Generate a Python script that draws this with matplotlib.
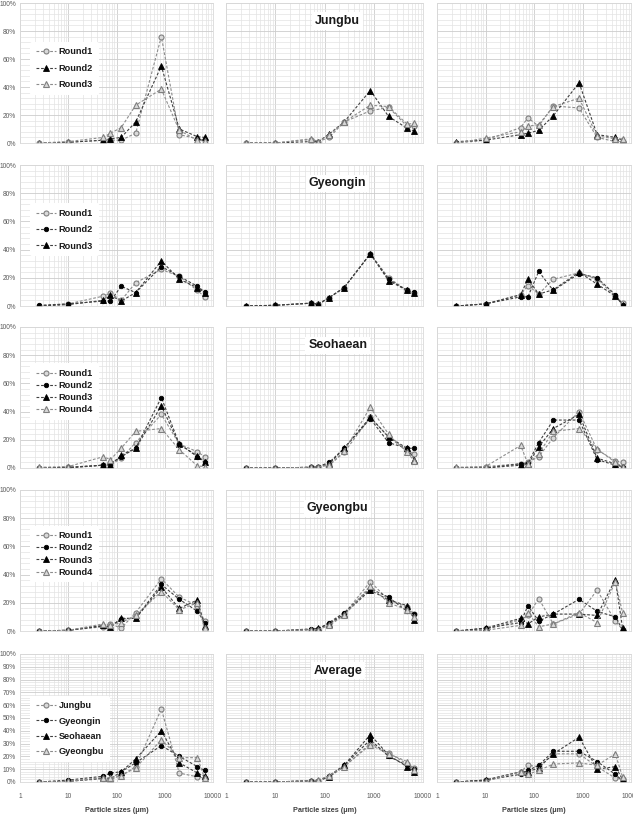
import matplotlib
matplotlib.use("Agg")
import matplotlib.pyplot as plt
import matplotlib.ticker as mticker
import numpy as np

# particle size classes (um)
sizes = [2.5, 10, 53, 75, 125, 250, 850, 2000, 4750, 6700]

# row 1 : Jungbu, Round1..3, three columns
jungbu_a = [[0, 0.5, 2, 2, 2, 7, 76, 6, 3, 2],
            [0, 0.5, 2, 3, 4, 15, 55, 10, 4.5, 4],
            [0, 1, 4, 7, 11, 27, 38.5, 9, 2, 1.5]]
jungbu_b = [[0, 0, 2.5, 1, 4, 15, 23, 25.5, 12, 12],
            [0, 0, 1, 1, 6.5, 15, 37.5, 19, 10.5, 8.5],
            [0, 0, 3, 1, 6, 15, 27, 26, 13.5, 14]]
jungbu_c = [[0, 2, 11, 18, 12, 26.5, 25, 4, 1, 1],
            [1, 2, 6, 7, 9, 19.5, 43, 6, 4, 2],
            [0, 3.5, 8, 12, 13, 26, 32, 5, 3, 3]]

# row 2 : Gyeongin, Round1..3
gyeongin_a = [[0, 1.5, 7, 9, 4, 16.5, 26, 21, 11, 6.5],
              [0.5, 1.5, 3.5, 3.5, 14, 9.5, 28, 21, 14, 10],
              [0, 1, 4, 7.5, 3.5, 9.5, 32, 19, 13, 9.5]]
gyeongin_b = [[0, 0.5, 2, 1.5, 6, 13, 37, 20, 11, 9],
              [0, 0.5, 2, 1, 6, 13, 37, 19, 11, 10],
              [0, 0.5, 2, 1.5, 6, 13, 37, 18, 11, 9]]
gyeongin_c = [[0, 1.5, 8, 14.5, 8.5, 19, 23.5, 19, 7, 2],
              [0, 1.5, 6.5, 6.5, 24.5, 11, 23, 20, 8, 1],
              [0, 1.5, 8, 19, 8.5, 11.5, 24, 15.5, 7, 1]]

# row 3 : Seohaean, Round1..4
seohaean_a = [[0, 0.5, 2, 2, 7, 18, 38, 17, 11.5, 8],
              [0, 0, 2, 3, 8, 14, 50, 17, 8, 4],
              [0, 0.5, 2, 2, 9, 14, 44, 17, 8.5, 4.5],
              [0.5, 1, 8, 6, 14, 26, 28, 13, 1.5, 1]]
seohaean_b = [[0, 0, 0.5, 1, 2, 11, 36, 22, 12, 10],
              [0, 0, 0.5, 1, 4, 14, 35, 18, 14, 14],
              [0, 0, 0.5, 1, 3, 14, 36, 22, 14, 6],
              [0, 0, 0.5, 1, 2, 12, 43, 24, 11, 5]]
seohaean_c = [[0, 1, 3, 4, 8, 21.5, 40, 13, 5, 4],
              [0, 0, 3, 3.5, 18, 34, 34, 6, 2, 1],
              [0, 0, 2, 2.5, 15, 28, 38, 7, 3, 1],
              [0.5, 1, 16, 3, 10, 26, 28, 13.5, 4, 1]]

# row 4 : Gyeongbu, Round1..4
gyeongbu_a = [[0, 0.5, 3, 5, 2, 13, 37, 24, 18, 7],
              [0, 0.5, 3.5, 3, 8.5, 9, 33, 22.5, 14, 6],
              [0, 0.5, 4, 3, 9, 9, 31, 16, 22, 3.5],
              [0, 0.5, 5, 4, 6, 11, 28, 15, 20, 2]]
gyeongbu_b = [[0, 0, 1, 1.5, 5, 12, 35, 22, 17, 12],
              [0, 0, 1.5, 1.5, 6, 13, 30, 24, 14, 12],
              [0, 0, 1, 2, 5, 12, 29, 22, 18, 8],
              [0, 0, 1, 1, 4, 11, 32, 20, 15, 10]]
gyeongbu_c = [[0, 1, 8, 11, 23, 5, 12, 29, 7, 1],
              [0, 2, 6, 18, 7, 12, 22.5, 14, 10, 1],
              [0, 2, 9, 5, 10, 12, 12, 11, 36.5, 2],
              [0, 0.5, 4, 13, 3, 5, 13, 6, 35, 13]]

# row 5 : Average of regions
average_a = [[0, 0.5, 2.5, 2, 5, 12, 57, 7, 4, 3],
             [0, 1.5, 4.5, 7, 8, 15, 28.5, 20, 12, 9],
             [0, 0.5, 3, 2.5, 8, 18, 40, 15, 7, 4.5],
             [0, 0.5, 3.5, 3.5, 5, 11, 33, 19, 19, 3]]
average_b = [[0, 0, 1, 1, 4, 12, 30, 23, 14, 11],
             [0, 0, 1, 1, 5, 13, 33, 20, 13, 10],
             [0, 0, 1, 1, 4, 13, 37, 21, 12, 8],
             [0, 0, 1, 1.5, 5, 12, 29, 22, 16, 9]]
average_c = [[0, 1.5, 8, 13, 12, 22, 22, 12, 3, 2],
             [0, 1.5, 6, 9, 13, 24, 24, 16, 6, 1],
             [0, 1.5, 8, 8, 11, 22, 35, 10, 12, 2],
             [0, 0.5, 8, 6, 9, 14, 15, 13, 22, 4]]

round3_labels = ["Round1", "Round2", "Round3"]
round4_labels = ["Round1", "Round2", "Round3", "Round4"]
region_labels = ["Jungbu", "Gyeongin", "Seohaean", "Gyeongbu"]
row_titles = ["Jungbu", "Gyeongin", "Seohaean", "Gyeongbu", "Average"]

# marker styles (gray = open-ish, black = filled)
GRAY_CIRC = dict(marker="o", mfc="#d9d9d9", mec="#7f7f7f", ms=3.6, mew=0.8, color="#8c8c8c")
BLK_CIRC = dict(marker="o", mfc="black", mec="black", ms=3.2, mew=0.6, color="#404040")
BLK_TRI = dict(marker="^", mfc="black", mec="black", ms=4.6, mew=0.6, color="#404040")
GRAY_TRI = dict(marker="^", mfc="#d9d9d9", mec="#7f7f7f", ms=4.2, mew=0.8, color="#8c8c8c")

styles = [
    [GRAY_CIRC, BLK_TRI, GRAY_TRI],
    [GRAY_CIRC, BLK_CIRC, BLK_TRI],
    [GRAY_CIRC, BLK_CIRC, BLK_TRI, GRAY_TRI],
    [GRAY_CIRC, BLK_CIRC, BLK_TRI, GRAY_TRI],
    [GRAY_CIRC, BLK_CIRC, BLK_TRI, GRAY_TRI],
]
rows = [
    [jungbu_a, jungbu_b, jungbu_c],
    [gyeongin_a, gyeongin_b, gyeongin_c],
    [seohaean_a, seohaean_b, seohaean_c],
    [gyeongbu_a, gyeongbu_b, gyeongbu_c],
    [average_a, average_b, average_c],
]
legends = [round3_labels, round3_labels, round4_labels, round4_labels, region_labels]

plt.rcParams["font.family"] = ["Liberation Sans", "DejaVu Sans"]

W, H = 633, 814
fig = plt.figure(figsize=(W / 100, H / 100), dpi=100)

col_px = [(20, 213), (226, 423), (437, 631)]
row_px = [(3, 143), (165, 306), (327, 468), (490, 631), (654, 782)]
leg_anchor = [0.755, 0.76, 0.775, 0.78, 0.71]
leg_space = [0.8, 0.8, 0.35, 0.35, 0.7]

for r, (top, bot) in enumerate(row_px):
    for c, (left, right) in enumerate(col_px):
        ax = fig.add_axes([left / W, 1 - bot / H, (right - left) / W, (bot - top) / H])
        for s, vals in enumerate(rows[r][c]):
            ax.plot(sizes, vals, ls=(0, (2.5, 1.6)), lw=0.8,
                    label=legends[r][s], **styles[r][s])
        ax.set_xscale("log")
        ax.set_xlim(1, 10000)
        ax.set_ylim(0, 100)
        ax.xaxis.set_major_locator(mticker.LogLocator(base=10, numticks=10))
        ax.xaxis.set_minor_locator(mticker.LogLocator(base=10, subs=np.arange(2, 10), numticks=10))
        if r < 4:
            ax.yaxis.set_major_locator(mticker.MultipleLocator(20))
            ax.yaxis.set_minor_locator(mticker.MultipleLocator(4))
        else:
            ax.yaxis.set_major_locator(mticker.MultipleLocator(10))
            ax.yaxis.set_minor_locator(mticker.MultipleLocator(2))
        ax.yaxis.set_major_formatter(mticker.FuncFormatter(lambda v, p: "%d%%" % v))
        ax.xaxis.set_major_formatter(mticker.FuncFormatter(lambda v, p: "%d" % v))
        ax.grid(True, which="major", color="#cccccc", lw=0.6)
        ax.grid(True, which="minor", color="#e3e3e3", lw=0.5)
        ax.set_axisbelow(True)
        for sp in ax.spines.values():
            sp.set_color("#d9d9d9")
            sp.set_linewidth(0.6)
        ax.tick_params(axis="y", which="both", length=0, labelsize=4.8, colors="#595959", pad=3)
        ax.tick_params(axis="x", which="both", length=0, labelsize=4.8, colors="#595959", pad=8)
        if c != 0:
            ax.tick_params(labelleft=False)
        if r != 4:
            ax.tick_params(labelbottom=False)
        else:
            ax.set_xlabel("Particle sizes (\u03bcm)", fontsize=5.2, fontweight="bold",
                          color="#404040", labelpad=5)
        if c == 1:
            ax.text(0.567, 0.87, row_titles[r], transform=ax.transAxes, ha="center",
                    va="center", fontsize=9, fontweight="bold", color="#1a1a1a",
                    bbox=dict(facecolor="white", edgecolor="none", pad=2))
        if c == 0:
            leg = ax.legend(loc="upper left", bbox_to_anchor=(0.03, leg_anchor[r]),
                            fontsize=6.6, frameon=True, facecolor="white",
                            edgecolor="none", framealpha=1, handlelength=2.2,
                            handletextpad=0.3, labelspacing=leg_space[r],
                            borderpad=0.6, numpoints=1)
            for t in leg.get_texts():
                t.set_fontweight("bold")
                t.set_color("#1a1a1a")

fig.savefig("out.png", dpi=100)
